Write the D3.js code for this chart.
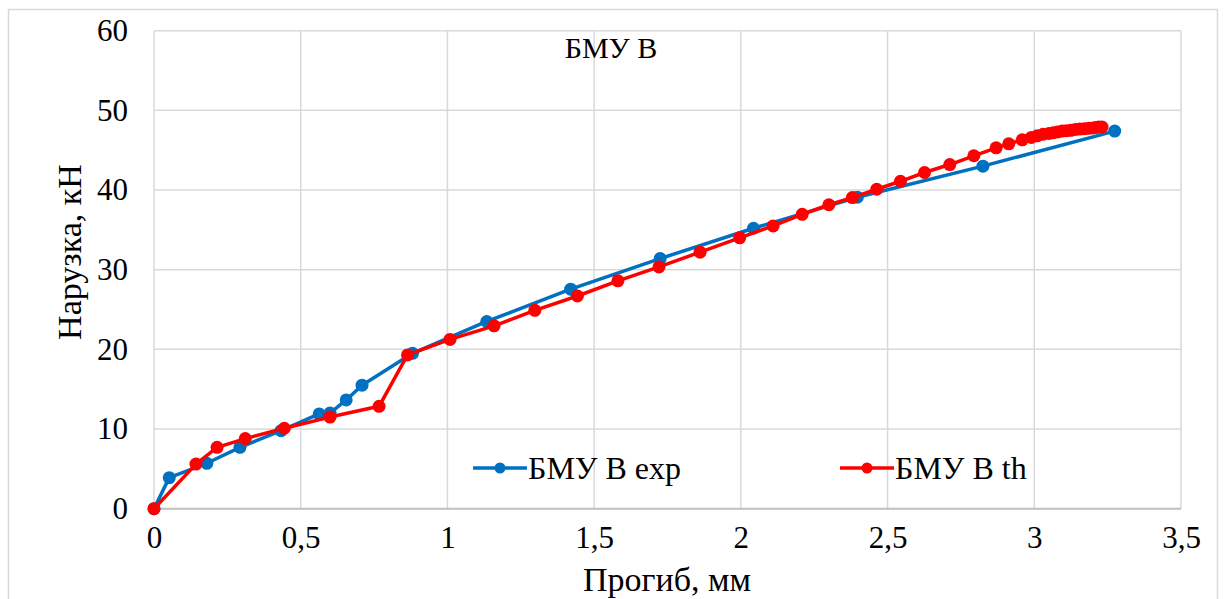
<!DOCTYPE html>
<html>
<head>
<meta charset="utf-8">
<script src="https://cdn.jsdelivr.net/npm/d3@7"></script>
<style>
  html, body { margin: 0; padding: 0; background: #fff; }
  svg { display: block; }
</style>
</head>
<body>
<svg id="chart" width="1224" height="599"></svg>
<script>
// Deflection (mm) vs load (kN), experimental series
const expDeflection = [0, 0.052, 0.18, 0.293, 0.433, 0.563, 0.60, 0.655, 0.709, 0.881, 1.134, 1.42, 1.725, 2.043, 2.397, 2.825, 3.274];
const expLoad       = [0, 3.9, 5.7, 7.7, 9.8, 11.9, 12.0, 13.65, 15.5, 19.5, 23.5, 27.55, 31.4, 35.2, 39.1, 43.0, 47.4];

// Deflection (mm) vs load (kN), theoretical series
const thDeflection = [0, 0.143, 0.215, 0.311, 0.444, 0.60, 0.767, 0.864, 1.009, 1.159, 1.298, 1.443, 1.581, 1.721, 1.861, 1.996, 2.11, 2.209, 2.30, 2.38, 2.463, 2.544, 2.626, 2.712, 2.794, 2.87, 2.913, 2.959, 2.99, 3.01, 3.03, 3.05, 3.065, 3.08, 3.095, 3.11, 3.125, 3.14, 3.155, 3.17, 3.185, 3.20, 3.21, 3.22, 3.231];
const thLoad       = [0, 5.6, 7.7, 8.8, 10.1, 11.5, 12.85, 19.3, 21.25, 22.95, 24.9, 26.7, 28.6, 30.35, 32.2, 34.0, 35.5, 36.95, 38.15, 39.05, 40.1, 41.1, 42.2, 43.2, 44.3, 45.3, 45.8, 46.3, 46.6, 46.8, 47.0, 47.1, 47.2, 47.3, 47.4, 47.45, 47.5, 47.6, 47.65, 47.7, 47.75, 47.8, 47.85, 47.9, 47.9];

const xTicks = [0, 0.5, 1, 1.5, 2, 2.5, 3, 3.5];
const yTicks = [0, 10, 20, 30, 40, 50, 60];

const chartTitle = "БМУ В";
const xTitle = "Прогиб, мм";
const yTitle = "Нарузка, кН";
const seriesNames = ["БМУ В exp", "БМУ В th"];
const seriesColors = ["#0070C0", "#FF0000"];

const serif = "'Liberation Serif'";

const svg = d3.select("#chart");

// outer chart frame
svg.append("rect")
  .attr("x", 8.5).attr("y", 9.5).attr("width", 1209).attr("height", 600)
  .attr("fill", "#fff").attr("stroke", "#d9d9d9").attr("stroke-width", 1.5);

const plot = { left: 154, right: 1181, top: 30.7, bottom: 508.7 };

const x = d3.scaleLinear().domain([0, 3.5]).range([plot.left, plot.right]);
const y = d3.scaleLinear().domain([0, 60]).range([plot.bottom, plot.top]);

// gridlines
const grid = svg.append("g");
grid.selectAll("line.v").data(xTicks).join("line")
  .attr("x1", d => x(d)).attr("x2", d => x(d))
  .attr("y1", plot.top).attr("y2", plot.bottom)
  .attr("stroke", "#d9d9d9").attr("stroke-width", 1.5);
grid.selectAll("line.h").data(yTicks.filter(d => d > 0)).join("line")
  .attr("x1", plot.left).attr("x2", plot.right)
  .attr("y1", d => y(d)).attr("y2", d => y(d))
  .attr("stroke", "#d9d9d9").attr("stroke-width", 1.5);

// axes (labels only, lines drawn separately)
const fmt = d => String(d).replace(".", ",");
const xAxis = svg.append("g")
  .attr("transform", `translate(0,${plot.bottom})`)
  .call(d3.axisBottom(x).tickValues(xTicks).tickFormat(fmt).tickSize(0).tickPadding(17));
const yAxis = svg.append("g")
  .attr("transform", `translate(${plot.left},0)`)
  .call(d3.axisLeft(y).tickValues(yTicks).tickFormat(fmt).tickSize(0).tickPadding(26));
[xAxis, yAxis].forEach(a => {
  a.attr("font-family", serif).attr("font-size", 31);
  a.select(".domain").remove();
  a.selectAll("text")
    .style("font-family", serif)
    .style("font-size", "31px")
    .attr("fill", "#000");
});

svg.append("line")
  .attr("x1", plot.left).attr("x2", plot.right)
  .attr("y1", plot.bottom).attr("y2", plot.bottom)
  .attr("stroke", "#bfbfbf").attr("stroke-width", 2);

// series
const seriesData = [
  d3.zip(expDeflection, expLoad),
  d3.zip(thDeflection, thLoad)
];
const line = d3.line().x(d => x(d[0])).y(d => y(d[1]));

seriesData.forEach((data, i) => {
  const g = svg.append("g");
  g.append("path")
    .attr("d", line(data))
    .attr("fill", "none")
    .attr("stroke", seriesColors[i])
    .attr("stroke-width", 3.5)
    .attr("stroke-linejoin", "round");
  g.selectAll("circle").data(data).join("circle")
    .attr("cx", d => x(d[0])).attr("cy", d => y(d[1]))
    .attr("r", 6.5)
    .attr("fill", seriesColors[i]);
});

const addText = (sel, size) => sel
  .attr("font-family", serif)
  .attr("font-size", size)
  .style("font-family", serif)
  .style("font-size", size + "px")
  .attr("fill", "#000");

// title
addText(svg.append("text")
  .attr("x", 611).attr("y", 58)
  .attr("text-anchor", "middle")
  .text(chartTitle), 30);

// axis titles
addText(svg.append("text")
  .attr("x", 667).attr("y", 591)
  .attr("text-anchor", "middle")
  .text(xTitle), 34);
addText(svg.append("text")
  .attr("transform", "translate(81,252) rotate(-90)")
  .attr("text-anchor", "middle")
  .text(yTitle), 34);

// legend
const legendItems = [
  { name: seriesNames[0], color: seriesColors[0], x0: 473 },
  { name: seriesNames[1], color: seriesColors[1], x0: 840 }
];
const legend = svg.append("g");
legendItems.forEach(it => {
  legend.append("line")
    .attr("x1", it.x0).attr("x2", it.x0 + 54)
    .attr("y1", 468).attr("y2", 468)
    .attr("stroke", it.color).attr("stroke-width", 3.5);
  legend.append("circle")
    .attr("cx", it.x0 + 27).attr("cy", 468).attr("r", 5.5)
    .attr("fill", it.color);
  addText(legend.append("text")
    .attr("x", it.x0 + 55).attr("y", 479)
    .text(it.name), 32);
});
</script>
</body>
</html>
